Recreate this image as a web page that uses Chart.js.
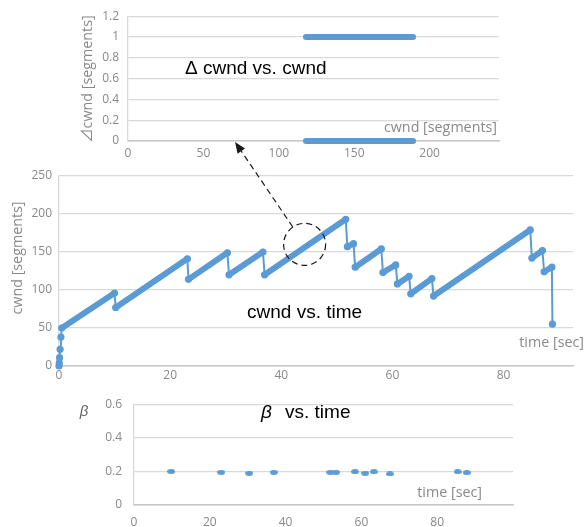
<!DOCTYPE html>
<html>
<head>
<meta charset="utf-8">
<script src="https://cdn.jsdelivr.net/npm/chart.js@4.4.1/dist/chart.umd.min.js"></script>
<style>
  html, body { margin: 0; padding: 0; background: #ffffff; }
  #wrap { position: relative; width: 586px; height: 527px; overflow: hidden; }
  canvas { position: absolute; left: 0; }
  #cTop { top: 0; z-index: 1; }
  #cBot { top: 385px; z-index: 1; }
  #cMid { top: 0; z-index: 2; pointer-events: none; }
</style>
</head>
<body>
<div id="wrap">
  <canvas id="cTop" width="586" height="165"></canvas>
  <canvas id="cBot" width="586" height="142"></canvas>
  <canvas id="cMid" width="586" height="390"></canvas>
</div>
<script>
// ---- Δcwnd vs. cwnd (increment per ACK round, segments) ----
const dcwndRange = [118, 189];      // cwnd span covered by the samples
const dcwndLevels = [1, 0];         // observed increments

// ---- cwnd vs. time ----
const cwndTime  = [0, 0.05, 0.1, 0.2, 0.35, 0.5, 10.0, 10.2, 23.1, 23.3, 30.3, 30.6, 36.7, 37.0,
                   51.6, 51.9, 53.0, 53.3, 58.0, 58.3, 60.6, 60.9, 63.0, 63.3, 67.1, 67.4,
                   84.8, 85.1, 87.0, 87.3, 88.7, 88.8];
const cwndValue = [0, 4, 11, 22, 38, 50, 96, 77, 141, 114, 149, 120, 150, 120,
                   193, 157, 161, 130, 154, 123, 133, 108, 118, 95, 115, 92,
                   179, 142, 152, 124, 130, 55];

// ---- β vs. time (multiplicative decrease at each loss) ----
const betaTime  = [9.8, 23.0, 30.4, 36.9, 51.8, 53.3, 58.3, 61.0, 63.3, 67.5, 85.4, 87.8];
const betaValue = [0.200, 0.195, 0.190, 0.195, 0.195, 0.195, 0.198, 0.190, 0.198, 0.185, 0.198, 0.193];

// callout: region of cwnd vs. time examined in the upper panel
const focusTime = 44.2, focusCwnd = 160;
const arrowTargetCwnd = 71;

const BLUE = '#5b9bd5';
const TICK = '#898989';
const GRID = '#d9d9d9';
const SANS = "'Open Sans', 'Noto Sans CJK JP', sans-serif";
const TITLE_FONT = "19px 'Liberation Sans', Arial, sans-serif";
const AXIS_FONT = "14.3px 'Open Sans', 'Noto Sans CJK JP', sans-serif";

Chart.defaults.font.family = SANS;
Chart.defaults.font.size = 12;
Chart.defaults.color = TICK;
Chart.defaults.animation = false;
Chart.defaults.responsive = false;
Chart.defaults.devicePixelRatio = 1;

const freeText = {
  id: 'freeText',
  afterDraw(chart, args, opts) {
    const ctx = chart.ctx;
    for (const t of (opts.items || [])) {
      ctx.save();
      ctx.font = t.font;
      ctx.fillStyle = t.color;
      ctx.textAlign = t.align || 'left';
      ctx.textBaseline = 'middle';
      ctx.translate(t.x, t.y);
      if (t.rotate) ctx.rotate(t.rotate);
      ctx.fillText(t.text, 0, 0);
      ctx.restore();
    }
  }
};

// plain number labels: 1 rather than 1.0
const plain = v => String(Number(v.toFixed(2)));

function yAxis(min, max, step, width, pad) {
  return {
    type: 'linear', min, max,
    ticks: { stepSize: step, padding: pad, color: TICK, font: { size: 12 }, callback: plain },
    grid: { color: GRID, lineWidth: 1.3, drawTicks: false },
    border: { display: true, color: GRID, width: 1.3 },
    afterFit(s) { s.width = width; }
  };
}
function xAxis(min, max, step, height, pad, show) {
  return {
    type: 'linear', min, max,
    ticks: { stepSize: step, padding: pad, color: TICK, maxRotation: 0, autoSkip: false,
             callback: v => show(v) ? plain(v) : '' },
    grid: { display: false, drawTicks: false },
    border: { display: true, color: '#c6c6c6', width: 1.5 },
    afterFit(s) { s.height = height; }
  };
}

// ---------- upper panel ----------
const topChart = new Chart(document.getElementById('cTop'), {
  type: 'scatter',
  data: {
    datasets: dcwndLevels.map(level => ({
      data: dcwndRange.map(c => ({ x: c, y: level })),
      showLine: true,
      borderColor: BLUE, backgroundColor: BLUE,
      borderWidth: 6, borderCapStyle: 'round',
      pointRadius: 0, clip: 6
    }))
  },
  options: {
    layout: { padding: { left: 0, right: 87, top: 16, bottom: 0 } },
    scales: {
      x: xAxis(0, 246, 50, 24, 5, v => v % 50 === 0),
      y: yAxis(0, 1.2, 0.2, 128, 9)
    },
    plugins: {
      legend: { display: false }, tooltip: { enabled: false },
      freeText: { items: [
        { text: 'Δ cwnd vs. cwnd', x: 185, y: 69, font: TITLE_FONT, color: '#000000' },
        { text: 'cwnd [segments]', x: 497, y: 128, align: 'right', font: AXIS_FONT, color: TICK },
        { text: '⊿cwnd [segments]', x: 88, y: 79, align: 'center', rotate: -Math.PI / 2, font: AXIS_FONT, color: TICK }
      ] }
    }
  },
  plugins: [freeText]
});

// ---------- lower panel ----------
function ellipseMarker(w, h, color) {
  const c = document.createElement('canvas');
  c.width = w; c.height = h;
  const g = c.getContext('2d');
  g.fillStyle = color;
  g.beginPath();
  g.ellipse(w / 2, h / 2, w / 2, h / 2, 0, 0, Math.PI * 2);
  g.fill();
  return c;
}

new Chart(document.getElementById('cBot'), {
  type: 'scatter',
  data: {
    datasets: [{
      data: betaTime.map((t, i) => ({ x: t, y: betaValue[i] })),
      pointStyle: ellipseMarker(8, 5, BLUE),
      pointRadius: 4,
      backgroundColor: BLUE, borderColor: BLUE
    }]
  },
  options: {
    layout: { padding: { left: 0, right: 73, top: 10, bottom: 0 } },
    scales: {
      x: xAxis(0, 100, 20, 22, 10, v => v % 20 === 0 && v < 100),
      y: yAxis(0, 0.6, 0.2, 134, 12)
    },
    plugins: {
      legend: { display: false }, tooltip: { enabled: false },
      freeText: { items: [
        { text: 'β', x: 261, y: 28, font: "italic 19px 'Liberation Sans', Arial, sans-serif", color: '#000000' },
        { text: 'vs. time', x: 285, y: 28, font: TITLE_FONT, color: '#000000' },
        { text: 'β', x: 84, y: 27, align: 'center', font: "italic 15px 'Liberation Sans', Arial, sans-serif", color: '#666666' },
        { text: 'time [sec]', x: 482, y: 108, align: 'right', font: AXIS_FONT, color: TICK }
      ] }
    }
  },
  plugins: [freeText]
});

// ---------- middle panel (drawn on top, carries the callout) ----------
const callout = {
  id: 'callout',
  afterDatasetsDraw(chart) {
    const { ctx, scales: { x, y } } = chart;
    const cx = x.getPixelForValue(focusTime);
    const cy = y.getPixelForValue(focusCwnd);
    const r = 21;
    const tx = topChart.scales.x.getPixelForValue(arrowTargetCwnd);
    const ty = topChart.scales.y.getPixelForValue(0) + 1;
    ctx.save();
    ctx.strokeStyle = '#1a1a1a';
    ctx.fillStyle = '#1a1a1a';
    ctx.lineWidth = 1.2;
    ctx.setLineDash([6, 4]);
    ctx.beginPath();
    ctx.arc(cx, cy, r, 0, Math.PI * 2);
    ctx.stroke();
    const ang = Math.atan2(ty - cy, tx - cx);
    const sx = cx + r * Math.cos(ang), sy = cy + r * Math.sin(ang);
    const head = 11, half = 4.5;
    const bx = tx - head * Math.cos(ang), by = ty - head * Math.sin(ang);
    ctx.beginPath();
    ctx.moveTo(sx, sy);
    ctx.lineTo(bx, by);
    ctx.stroke();
    ctx.setLineDash([]);
    ctx.beginPath();
    ctx.moveTo(tx, ty);
    ctx.lineTo(bx + half * Math.sin(ang), by - half * Math.cos(ang));
    ctx.lineTo(bx - half * Math.sin(ang), by + half * Math.cos(ang));
    ctx.closePath();
    ctx.fill();
    ctx.restore();
  }
};

new Chart(document.getElementById('cMid'), {
  type: 'scatter',
  data: {
    datasets: [{
      data: cwndTime.map((t, i) => ({ x: t, y: cwndValue[i] })),
      showLine: true,
      borderColor: BLUE, backgroundColor: BLUE,
      borderWidth: 2, borderCapStyle: 'round', borderJoinStyle: 'round',
      pointRadius: 3.6, pointBorderWidth: 0,
      clip: 8,
      segment: {
        // growth phases are drawn heavy, loss reductions thin
        borderWidth: c => (c.p1.parsed.y > c.p0.parsed.y && c.p1.parsed.x - c.p0.parsed.x > 1) ? 6 : 2
      }
    }]
  },
  options: {
    layout: { padding: { left: 0, right: 13, top: 176, bottom: 0 } },
    scales: {
      x: xAxis(0, 92.5, 20, 24, 2, v => v % 20 === 0),
      y: yAxis(0, 250, 50, 59, 7)
    },
    plugins: {
      legend: { display: false }, tooltip: { enabled: false },
      freeText: { items: [
        { text: 'cwnd vs. time', x: 247, y: 313, font: TITLE_FONT, color: '#000000' },
        { text: 'time [sec]', x: 584, y: 343, align: 'right', font: AXIS_FONT, color: TICK },
        { text: 'cwnd [segments]', x: 18, y: 258, align: 'center', rotate: -Math.PI / 2, font: AXIS_FONT, color: TICK }
      ] }
    }
  },
  plugins: [callout, freeText]
});
</script>
</body>
</html>
